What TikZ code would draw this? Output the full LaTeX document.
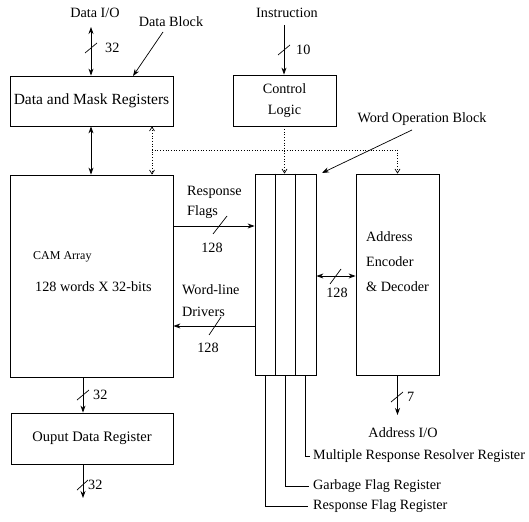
\documentclass[tikz,border=0pt]{standalone}
\usepackage{fontspec}
\setmainfont{Liberation Serif}
\usetikzlibrary{arrows.meta,calc}
\begin{document}
\begin{tikzpicture}[x=1pt,y=-1pt,
  box/.style={draw, line width=0.8pt, inner sep=0pt},
  lbl/.style={inner sep=0pt, font=\fontsize{14.2}{20}\selectfont},
  arr/.style={line width=0.8pt, -{Stealth[length=7pt,width=5pt]}},
  darr/.style={line width=0.8pt, {Stealth[length=7pt,width=5pt]}-{Stealth[length=7pt,width=5pt]}},
  dotl/.style={line width=0.7pt, dotted},
  dotarr/.style={line width=0.7pt, dotted, -{Straight Barb[length=4pt,width=5pt]}},
  dotdarr/.style={line width=0.7pt, dotted, {Straight Barb[length=4pt,width=5pt]}-{Straight Barb[length=4pt,width=5pt]}},
  slash/.style={line width=0.7pt},
  thin/.style={line width=0.7pt},
]
\useasboundingbox (0,0) rectangle (529,521);

% boxes
\node[box, minimum width=163pt, minimum height=50pt, font=\fontsize{15.5}{18}\selectfont] (dm) at (91.5,101) {Data and Mask Registers};
\node[box, minimum width=103pt, minimum height=51pt, align=center, font=\fontsize{14.2}{21}\selectfont] (cl) at (284.5,100.5) {Control\\Logic};
\node[box, minimum width=163pt, minimum height=202pt] (cam) at (91.5,276) {};
\node[box, minimum width=61pt, minimum height=201pt] (wob) at (285.5,274.5) {};
\node[box, minimum width=83pt, minimum height=201pt] (addr) at (397.5,274.5) {};
\node[box, minimum width=162pt, minimum height=51pt, font=\fontsize{14.5}{18}\selectfont] (out) at (92,438.5) {Ouput Data Register};

% WOB inner column lines
\draw[thin] ($(wob.north west)+(21,0)$) -- ($(wob.south west)+(21,0)$);
\draw[thin] ($(wob.north west)+(41,0)$) -- ($(wob.south west)+(41,0)$);

% labels
\node[lbl] (dio) at (95,13) {Data I/O};
\node[lbl] (dblk) at (171,22) {Data Block};
\node[lbl] (ins) at (287,13) {Instruction};
\node[lbl] (wobl) at (422,119) {Word Operation Block};
\node[lbl, font=\fontsize{12}{14}\selectfont, anchor=west] (camt) at (33,257) {CAM Array};
\node[lbl, anchor=west] (camw) at (35,287) {128 words X 32-bits};
\node[lbl, anchor=west, align=left] (rf) at (187,202) {Response\\Flags};
\node[lbl, anchor=west, align=left, font=\fontsize{14.2}{22}\selectfont] (wl) at (182,301) {Word-line\\Drivers};
\node[lbl, anchor=west, align=left, font=\fontsize{14.2}{25}\selectfont] (addrt) at (366,262) {Address\\Encoder\\\& Decoder};
\node[lbl] (aio) at (403,433) {Address I/O};
\node[lbl, anchor=west] (mr) at (313,456) {Multiple Response Resolver Register};
\node[lbl, anchor=west] (gf) at (313,486) {Garbage Flag Register};
\node[lbl, anchor=west] (rfr) at (313,506) {Response Flag Register};

% bus widths
\node[lbl, anchor=west] (n1) at (105,48) {32};
\node[lbl, anchor=west] (n2) at (296,50) {10};
\node[lbl, anchor=west] (n3) at (93,395) {32};
\node[lbl, anchor=west] (n4) at (88,485) {32};
\node[lbl] (n5) at (212,248) {128};
\node[lbl] (n6) at (208,348) {128};
\node[lbl] (n7) at (337,293) {128};
\node[lbl, anchor=west] (n8) at (407,397) {7};

% coordinates for connector ends
\coordinate (dioA) at (91,27);
\coordinate (insA) at (284,25);
\coordinate (dblkA) at (163,32);
\coordinate (dblkB) at (133,76);
\coordinate (wobA) at (412,130);
\coordinate (wobB) at (322,173);
\coordinate (busL) at (152,150);
\coordinate (busR) at (397.5,150);
\coordinate (xA) at (91,0);
\coordinate (xB) at (152,0);
\coordinate (xC) at (83,0);
\coordinate (yRF) at (0,226);
\coordinate (yWL) at (0,326);
\coordinate (yAD) at (0,276);
\coordinate (outEnd) at (83,498);
\coordinate (aioEnd) at (397.5,415);

% connectors
\draw[darr] (dioA) -- (dioA |- dm.north);
\draw[slash] (85,53) -- (97,43);
\draw[arr] (insA) -- (insA |- cl.north);
\draw[slash] (278,55) -- (290,45);
\draw[arr, line width=0.7pt] (dblkA) -- (dblkB);
\draw[arr, line width=0.7pt] (wobA) -- (wobB);

\draw[darr] (xA |- dm.south) -- (xA |- cam.north);
\draw[dotdarr] (xB |- dm.south) -- (xB |- cam.north);
\draw[dotl] (busL) -- (busR);
\draw[dotarr] (cl.south) -- (cl.south |- wob.north);
\draw[dotarr] (busR) -- (addr.north);

\draw[arr] (cam.east |- yRF) -- (wob.west |- yRF);
\draw[slash] (213,234) -- (227,216);
\draw[arr] (wob.west |- yWL) -- (cam.east |- yWL);
\draw[slash] (209,335) -- (221,317);
\draw[darr] (wob.east |- yAD) -- (addr.west |- yAD);
\draw[slash] (330,284) -- (341,269);

\draw[arr] (xC |- cam.south) -- (xC |- out.north);
\draw[slash] (77,400) -- (89,390);
\draw[arr] (xC |- out.south) -- (outEnd);
\draw[slash] (77,490) -- (88,480);
\draw[arr] (addr.south) -- (aioEnd);
\draw[slash] (391,402) -- (403,392);

% register leader lines
\draw[thin] ($(wob.south west)+(10.5,0)$) |- ($(rfr.west)+(-5,0)$);
\draw[thin] ($(wob.south west)+(31,0)$) |- ($(gf.west)+(-4,0)$);
\draw[thin] ($(wob.south west)+(51,0)$) |- ($(mr.west)+(-3,0)$);
\end{tikzpicture}
\end{document}
